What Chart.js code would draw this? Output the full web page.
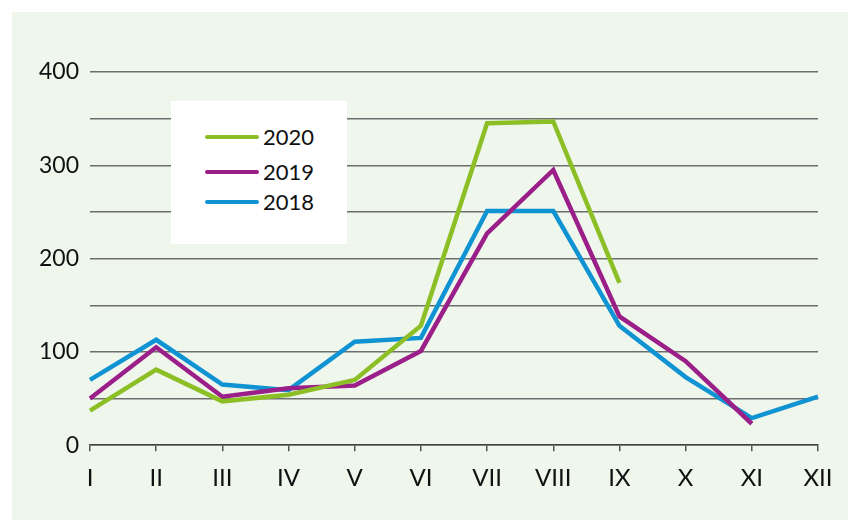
<!DOCTYPE html>
<html>
<head>
<meta charset="utf-8">
<script src="https://cdn.jsdelivr.net/npm/chart.js@4"></script>
<style>
  html, body { margin: 0; padding: 0; background: #fff; }
  #wrap { position: relative; width: 848px; height: 520px; }
  #panel { position: absolute; left: 12px; top: 12px; right: 0; bottom: 0; background: #eff6ec; }
  #chart { position: absolute; left: 0; top: 0; }
  #legend {
    position: absolute; left: 171px; top: 101px; width: 176px; height: 143px;
    background: #fff; font-family: Lato, sans-serif; font-size: 22px; color: #111;
  }
  .item { position: absolute; left: 34px; height: 26px; line-height: 26px; }
  .item span.swatch { position: absolute; left: 0; top: 11px; width: 54px; height: 4px; border-radius: 2px; }
  .item span.label { position: absolute; left: 58px; top: 0; }
</style>
</head>
<body>
<div id="wrap">
  <div id="panel"></div>
  <canvas id="chart" width="848" height="520"></canvas>
  <div id="legend"></div>
</div>
<script>
// months
const months = ["I", "II", "III", "IV", "V", "VI", "VII", "VIII", "IX", "X", "XI", "XII"];

// series values
const values2020 = [37, 81, 47, 54, 70, 128, 345, 347, 174];
const values2019 = [50, 105, 52, 61, 64, 101, 227, 295, 138, 90, 23];
const values2018 = [70, 113, 65, 59, 111, 115, 251, 251, 128, 73, 29, 52];

const years = ["2020", "2019", "2018"];
const colors = ["#8cbf26", "#9b1f88", "#0f93d3"];
const series = [values2020, values2019, values2018];

const datasets = years.map((y, i) => ({
  label: y,
  data: series[i],
  borderColor: colors[i],
  backgroundColor: colors[i],
  borderWidth: 4.5,
  pointRadius: 0,
  tension: 0,
  fill: false
}));

const font = { family: "Lato, sans-serif", size: 23 };

new Chart(document.getElementById("chart"), {
  type: "line",
  data: { labels: months, datasets },
  options: {
    responsive: false,
    animation: false,
    events: [],
    layout: { padding: { left: 0, right: 30, top: 72, bottom: 14 } },
    plugins: { legend: { display: false }, tooltip: { enabled: false } },
    scales: {
      x: {
        offset: false,
        grid: { drawOnChartArea: false, drawTicks: true, tickLength: 6, color: "#555", lineWidth: 1.5 },
        border: { display: true, color: "#444", width: 1.5 },
        ticks: { color: "#111", font: { family: "Lato, sans-serif", size: 24 }, padding: 13, maxRotation: 0, autoSkip: false }
      },
      y: {
        min: 0,
        max: 400,
        afterFit: s => { s.width = 90; },
        grid: { drawTicks: false, color: "#6e6e6e", lineWidth: 1.5 },
        border: { display: false },
        ticks: {
          stepSize: 50,
          color: "#111",
          font,
          padding: 11,
          callback: v => (v % 100 === 0 ? v : "")
        }
      }
    }
  }
});

// legend box built from the same arrays
const legendEl = document.getElementById("legend");
const rowTops = [23, 58, 88];
years.forEach((y, i) => {
  const row = document.createElement("div");
  row.className = "item";
  row.style.top = rowTops[i] + "px";
  row.innerHTML = `<span class="swatch" style="background:${colors[i]}"></span><span class="label">${y}</span>`;
  legendEl.appendChild(row);
});
</script>
</body>
</html>
